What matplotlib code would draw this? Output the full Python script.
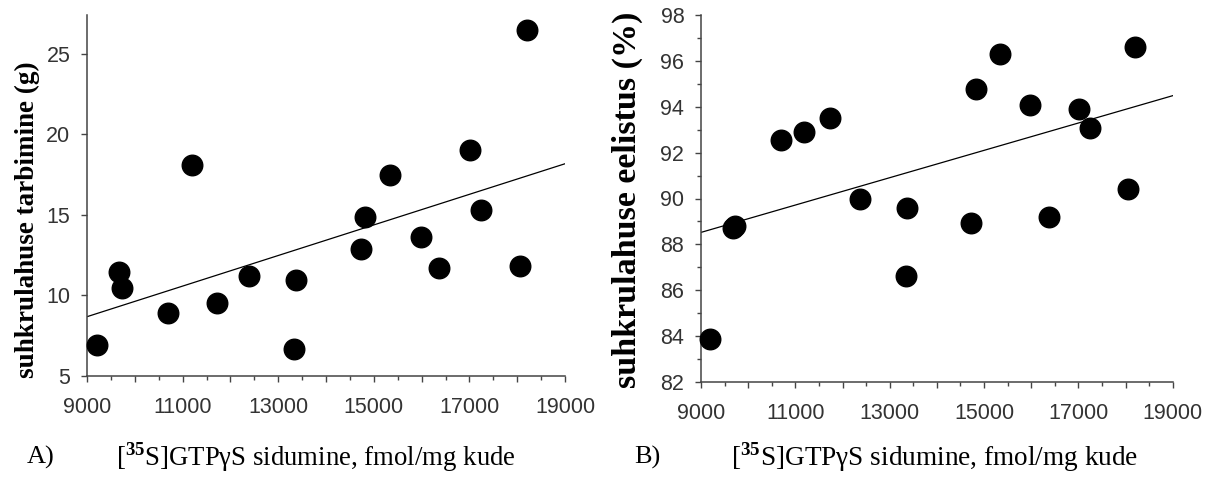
import matplotlib
matplotlib.use("Agg")
import matplotlib.pyplot as plt
from matplotlib.ticker import MultipleLocator, FuncFormatter

# ---- data ----
binding = [9200, 9670, 9730, 10690, 11190, 11730, 12380, 13370, 13340,
           14730, 14820, 15330, 15980, 16370, 17020, 17240, 18060, 18210]
consumption_g = [6.95, 11.45, 10.45, 8.9, 18.1, 9.5, 11.2, 10.95, 6.7,
                 12.9, 14.85, 17.45, 13.65, 11.7, 19.0, 15.3, 11.85, 26.5]
preference_pct = [83.85, 88.7, 88.8, 92.55, 92.9, 93.5, 89.98, 89.6, 86.6,
                  88.93, 94.8, 96.3, 94.1, 89.18, 93.9, 93.1, 90.4, 96.63]
fit_x = [9000, 19000]
fit_a = [8.68, 18.17]
fit_b = [88.52, 94.49]

xlabel_text = r"[$^{\mathbf{35}}$S]GTP" + "\u03b3" + "S sidumine, fmol/mg kude"
ylabel_a = "suhkrulahuse tarbimine (g)"
ylabel_b = "suhkrulahuse eelistus (%)"
panel_a = "A)"
panel_b = "B)"

plt.rcParams['font.family'] = ['Liberation Sans', 'DejaVu Sans']
plt.rcParams['mathtext.fontset'] = 'custom'
plt.rcParams['mathtext.rm'] = 'Liberation Serif'
plt.rcParams['mathtext.bf'] = 'Liberation Serif:bold'

W, H = 1213, 479
fig = plt.figure(figsize=(W / 100, H / 100), dpi=100)

def ax_rect(x0, x1, ytop, ybot):
    return [x0 / W, 1 - ybot / H, (x1 - x0) / W, (ybot - ytop) / H]

axA = fig.add_axes(ax_rect(87, 565, 15, 376))
axB = fig.add_axes(ax_rect(701, 1172.7, 15.3, 381.7))

def style(ax):
    for s in ['top', 'right']:
        ax.spines[s].set_visible(False)
    for s in ['left', 'bottom']:
        ax.spines[s].set_color('#444444')
        ax.spines[s].set_linewidth(1.1)
    ax.set_xlim(9000, 19000)
    ax.xaxis.set_major_locator(MultipleLocator(1000))
    ax.xaxis.set_minor_locator(MultipleLocator(500))
    ax.xaxis.set_major_formatter(FuncFormatter(
        lambda v, p: f"{int(v)}" if int(round(v)) % 2000 == 1000 else ""))
    ax.tick_params(axis='both', which='major', length=4, width=1.0,
                   color='#444444', labelsize=15.5, labelcolor='#333333')
    ax.tick_params(axis='both', which='minor', length=3, width=1.0,
                   color='#444444')
    ax.tick_params(axis='x', which='major', pad=11)
    ax.tick_params(axis='y', which='major', pad=8)

style(axA)
axA.set_ylim(5, 27.4)
axA.yaxis.set_major_locator(MultipleLocator(5))
axA.plot(fit_x, fit_a, color='black', lw=0.9, zorder=2)
axA.plot(binding, consumption_g, 'o', color='black', ms=14.8, zorder=3,
         clip_on=False)

style(axB)
axB.set_ylim(82, 98)
axB.yaxis.set_major_locator(MultipleLocator(2))
axB.yaxis.set_minor_locator(MultipleLocator(1))
axB.plot(fit_x, fit_b, color='black', lw=0.9, zorder=2)
axB.plot(binding, preference_pct, 'o', color='black', ms=14.8, zorder=3,
         clip_on=False)

serif = ['Liberation Serif', 'DejaVu Serif']
fig.text(27 / W, 1 - 220 / H, ylabel_a, rotation=90, ha='center', va='center',
         family=serif, fontweight='bold', fontsize=19.5)
fig.text(627 / W, 1 - 200 / H, ylabel_b, rotation=90, ha='center', va='center',
         family=serif, fontweight='bold', fontsize=24.5)

fig.text(27 / W, 1 - 457 / H, panel_a, ha='left', va='center',
         family=serif, fontsize=19)
fig.text(634 / W, 1 - 457 / H, panel_b, ha='left', va='center',
         family=serif, fontsize=19)
fig.text(116 / W, 1 - 457 / H, xlabel_text, ha='left', va='center',
         family=serif, fontsize=19.3)
fig.text(731 / W, 1 - 457 / H, xlabel_text, ha='left', va='center',
         family=serif, fontsize=19.6)

fig.savefig("out.png", dpi=100)
